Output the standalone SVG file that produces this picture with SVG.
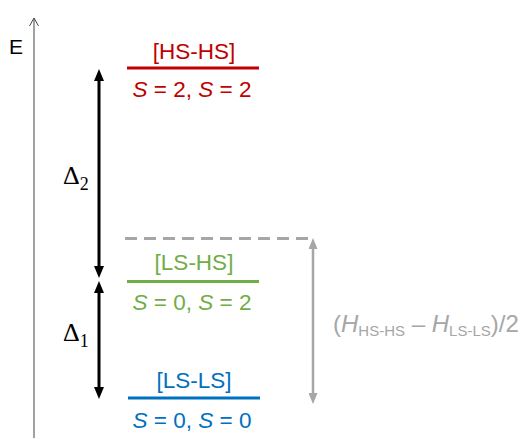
<svg xmlns="http://www.w3.org/2000/svg" width="523" height="438" viewBox="0 0 523 438">
<style>
.lbl{font-family:"Liberation Sans",Arial,sans-serif;font-size:22.5px;text-anchor:middle}
.red{fill:#C00000}.green{fill:#70AD47}.blue{fill:#0070C0}.gray{fill:#A6A6A6}
.delta{font-family:"Liberation Serif","Times New Roman",serif;font-size:26px;fill:#000}
.lvl{stroke-width:3;fill:none}
</style>
<defs>
<marker id="ah" markerUnits="userSpaceOnUse" markerWidth="12" markerHeight="10" refX="2" refY="5" orient="auto-start-reverse">
<path d="M0,0 L12,5 L0,10 z" fill="#000"/>
</marker>
<marker id="ahg" markerUnits="userSpaceOnUse" markerWidth="11" markerHeight="9" refX="2" refY="4.5" orient="auto-start-reverse">
<path d="M0,0 L11,4.5 L0,9 z" fill="#A6A6A6"/>
</marker>
</defs>
<g id="axis">
<line x1="34" y1="18.5" x2="34" y2="438" stroke="#444" stroke-width="1"/>
<polyline points="29.5,26 34,18 38.5,26" fill="none" stroke="#444" stroke-width="1"/>
<text x="9" y="54" font-family="Liberation Sans,Arial,sans-serif" font-size="21" fill="#000">E</text>
</g>
<g id="hs-hs">
<line class="lvl" x1="127" y1="68" x2="259" y2="68" stroke="#C00000"/>
<text class="lbl red" x="194" y="59">[HS-HS]</text>
<text class="lbl red" x="192" y="97"><tspan font-style="italic">S</tspan> = 2, <tspan font-style="italic">S</tspan> = 2</text>
</g>
<g id="ls-hs">
<line class="lvl" x1="127" y1="281.5" x2="259" y2="281.5" stroke="#70AD47"/>
<text class="lbl green" x="194" y="270">[LS-HS]</text>
<text class="lbl green" x="192" y="310"><tspan font-style="italic">S</tspan> = 0, <tspan font-style="italic">S</tspan> = 2</text>
</g>
<g id="ls-ls">
<line class="lvl" x1="128" y1="398" x2="260" y2="398" stroke="#0070C0"/>
<text class="lbl blue" x="194" y="388">[LS-LS]</text>
<text class="lbl blue" x="192" y="428"><tspan font-style="italic">S</tspan> = 0, <tspan font-style="italic">S</tspan> = 0</text>
</g>
<g id="connectors">
<line x1="99" y1="79" x2="99" y2="268" stroke="#000" stroke-width="3" marker-start="url(#ah)" marker-end="url(#ah)"/>
<line x1="99" y1="291" x2="99" y2="389" stroke="#000" stroke-width="3" marker-start="url(#ah)" marker-end="url(#ah)"/>
<line x1="125" y1="238.5" x2="311" y2="238.5" stroke="#A6A6A6" stroke-width="3" stroke-dasharray="12 7"/>
<line x1="313" y1="247" x2="313" y2="395" stroke="#A6A6A6" stroke-width="2.5" marker-start="url(#ahg)" marker-end="url(#ahg)"/>
</g>
<g id="labels">
<text class="delta" x="63" y="184">Δ<tspan font-size="18" dy="6">2</tspan></text>
<text class="delta" x="63" y="341">Δ<tspan font-size="18" dy="6">1</tspan></text>
<text x="333" y="332" font-family="Liberation Sans,Arial,sans-serif" font-size="24" fill="#A6A6A6">(<tspan font-style="italic">H</tspan><tspan font-size="15" dy="4">HS-HS</tspan><tspan dy="-4"> – </tspan><tspan font-style="italic">H</tspan><tspan font-size="15" dy="4">LS-LS</tspan><tspan dy="-4">)/2</tspan></text>
</g>
</svg>
